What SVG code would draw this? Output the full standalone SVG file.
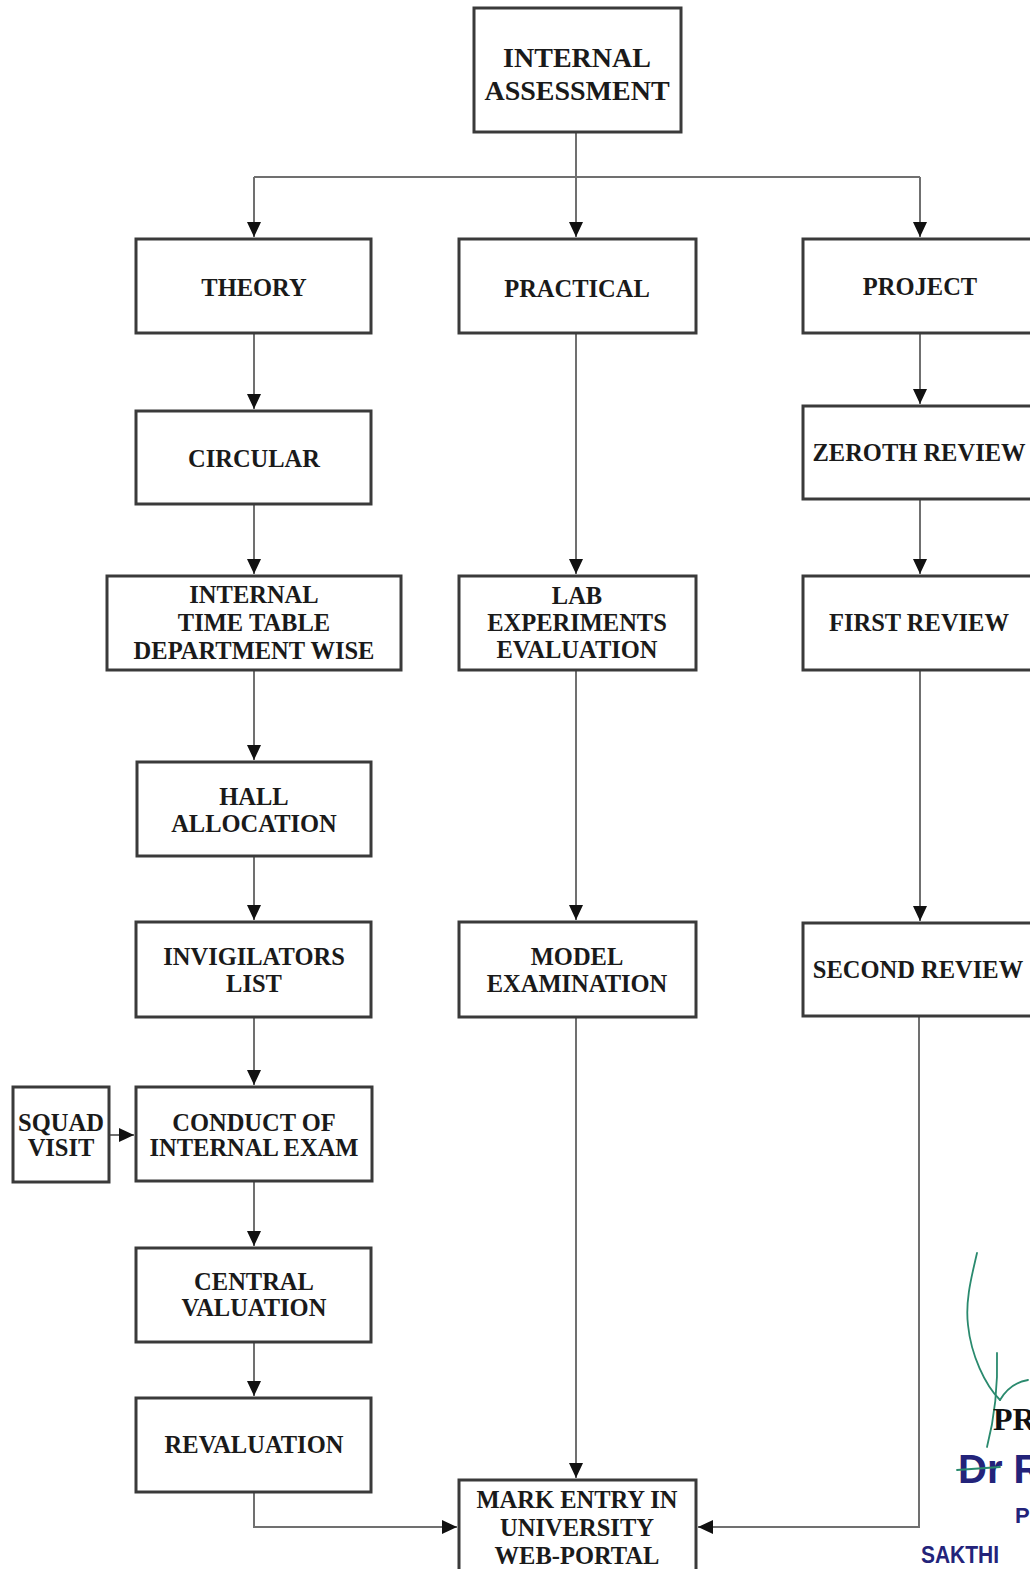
<svg xmlns="http://www.w3.org/2000/svg" width="1030" height="1569" viewBox="0 0 1030 1569">
<style>
.box{fill:#fff;stroke:#3a3a3a;stroke-width:3}
.t{font-family:"Liberation Serif","Times New Roman",serif;font-weight:bold;font-size:24.5px;fill:#1a1a1a;text-anchor:middle}
.tb{font-size:28px}
.c{fill:none;stroke:#707070;stroke-width:2}
.sig{fill:none;stroke:#2a8a6e;stroke-width:1.8;stroke-linecap:round}
.blue{font-family:"Liberation Sans",Arial,sans-serif;font-weight:bold;fill:#23237a}
</style>
<defs>
<marker id="ah" markerUnits="userSpaceOnUse" markerWidth="16" markerHeight="16" viewBox="0 0 16 16" refX="15" refY="7" orient="auto">
<path d="M0,0 L15,7 L0,14 Z" fill="#111"/>
</marker>
</defs>
<rect width="1030" height="1569" fill="#fff"/>

<g id="connectors">
<path class="c" d="M576,132 V237" marker-end="url(#ah)"/>
<path class="c" d="M254,177 H920"/>
<path class="c" d="M254,177 V237" marker-end="url(#ah)"/>
<path class="c" d="M920,177 V237" marker-end="url(#ah)"/>
<path class="c" d="M254,333 V409" marker-end="url(#ah)"/>
<path class="c" d="M254,504 V574" marker-end="url(#ah)"/>
<path class="c" d="M254,670 V760" marker-end="url(#ah)"/>
<path class="c" d="M254,856 V920" marker-end="url(#ah)"/>
<path class="c" d="M254,1017 V1085" marker-end="url(#ah)"/>
<path class="c" d="M254,1181 V1246" marker-end="url(#ah)"/>
<path class="c" d="M254,1342 V1396" marker-end="url(#ah)"/>
<path class="c" d="M254,1492 V1527 H457" marker-end="url(#ah)"/>
<path class="c" d="M88,1135 H134" marker-end="url(#ah)"/>
<path class="c" d="M576,333 V574" marker-end="url(#ah)"/>
<path class="c" d="M576,670 V920" marker-end="url(#ah)"/>
<path class="c" d="M576,1017 V1478" marker-end="url(#ah)"/>
<path class="c" d="M920,333 V404" marker-end="url(#ah)"/>
<path class="c" d="M920,499 V574" marker-end="url(#ah)"/>
<path class="c" d="M920,670 V921" marker-end="url(#ah)"/>
<path class="c" d="M919,1016 V1527 H698" marker-end="url(#ah)"/>
</g>

<g id="n-internal-assessment">
<rect class="box" x="474" y="8" width="207" height="124"/>
<text class="t tb" x="577" y="67">INTERNAL</text>
<text class="t tb" x="577" y="100">ASSESSMENT</text>
</g>
<g id="n-theory">
<rect class="box" x="136" y="239" width="235" height="94"/>
<text class="t" x="254" y="296">THEORY</text>
</g>
<g id="n-practical">
<rect class="box" x="459" y="239" width="237" height="94"/>
<text class="t" x="577" y="297">PRACTICAL</text>
</g>
<g id="n-project">
<rect class="box" x="803" y="239" width="235" height="94"/>
<text class="t" x="920" y="295">PROJECT</text>
</g>
<g id="n-circular">
<rect class="box" x="136" y="411" width="235" height="93"/>
<text class="t" x="254" y="467">CIRCULAR</text>
</g>
<g id="n-zeroth-review">
<rect class="box" x="803" y="406" width="235" height="93"/>
<text class="t" x="919" y="461">ZEROTH REVIEW</text>
</g>
<g id="n-internal-time-table">
<rect class="box" x="107" y="576" width="294" height="94"/>
<text class="t" x="254" y="603">INTERNAL</text>
<text class="t" x="254" y="631">TIME TABLE</text>
<text class="t" x="254" y="659">DEPARTMENT WISE</text>
</g>
<g id="n-lab-experiments">
<rect class="box" x="459" y="576" width="237" height="94"/>
<text class="t" x="577" y="604">LAB</text>
<text class="t" x="577" y="631">EXPERIMENTS</text>
<text class="t" x="577" y="658">EVALUATION</text>
</g>
<g id="n-first-review">
<rect class="box" x="803" y="576" width="235" height="94"/>
<text class="t" x="919" y="631">FIRST REVIEW</text>
</g>
<g id="n-hall-allocation">
<rect class="box" x="137" y="762" width="234" height="94"/>
<text class="t" x="254" y="805">HALL</text>
<text class="t" x="254" y="832">ALLOCATION</text>
</g>
<g id="n-invigilators-list">
<rect class="box" x="136" y="922" width="235" height="95"/>
<text class="t" x="254" y="965">INVIGILATORS</text>
<text class="t" x="254" y="992">LIST</text>
</g>
<g id="n-model-examination">
<rect class="box" x="459" y="922" width="237" height="95"/>
<text class="t" x="577" y="965">MODEL</text>
<text class="t" x="577" y="992">EXAMINATION</text>
</g>
<g id="n-second-review">
<rect class="box" x="803" y="923" width="235" height="93"/>
<text class="t" x="918" y="978">SECOND REVIEW</text>
</g>
<g id="n-squad-visit">
<rect class="box" x="13" y="1087" width="96" height="95"/>
<text class="t" x="61" y="1131">SQUAD</text>
<text class="t" x="61" y="1156">VISIT</text>
</g>
<g id="n-conduct">
<rect class="box" x="136" y="1087" width="236" height="94"/>
<text class="t" x="254" y="1131">CONDUCT OF</text>
<text class="t" x="254" y="1156">INTERNAL EXAM</text>
</g>
<g id="n-central-valuation">
<rect class="box" x="136" y="1248" width="235" height="94"/>
<text class="t" x="254" y="1290">CENTRAL</text>
<text class="t" x="254" y="1316">VALUATION</text>
</g>
<g id="n-revaluation">
<rect class="box" x="136" y="1398" width="235" height="94"/>
<text class="t" x="254" y="1453">REVALUATION</text>
</g>
<g id="n-mark-entry">
<rect class="box" x="459" y="1480" width="237" height="120"/>
<text class="t" x="577" y="1508">MARK ENTRY IN</text>
<text class="t" x="577" y="1536">UNIVERSITY</text>
<text class="t" x="577" y="1564">WEB-PORTAL</text>
</g>

<g id="signature">
<path class="sig" d="M977,1253 C972,1275 965,1300 968,1325 C971,1355 985,1385 1000,1400"/>
<path class="sig" d="M997,1353 C998,1385 994,1420 987,1447"/>
<path class="sig" d="M1000,1400 C1006,1390 1016,1382 1028,1380"/>
<text x="993" y="1430" font-family="Liberation Serif,serif" font-weight="bold" font-size="32" fill="#111">PR</text>
<text class="blue" x="958" y="1483" font-size="40">Dr R</text>
<path class="sig" d="M957,1470 L1000,1467"/>
<text class="blue" x="1015" y="1523" font-size="22">P</text>
<text class="blue" x="921" y="1563" font-size="24" textLength="78" lengthAdjust="spacingAndGlyphs">SAKTHI</text>
</g>
</svg>
